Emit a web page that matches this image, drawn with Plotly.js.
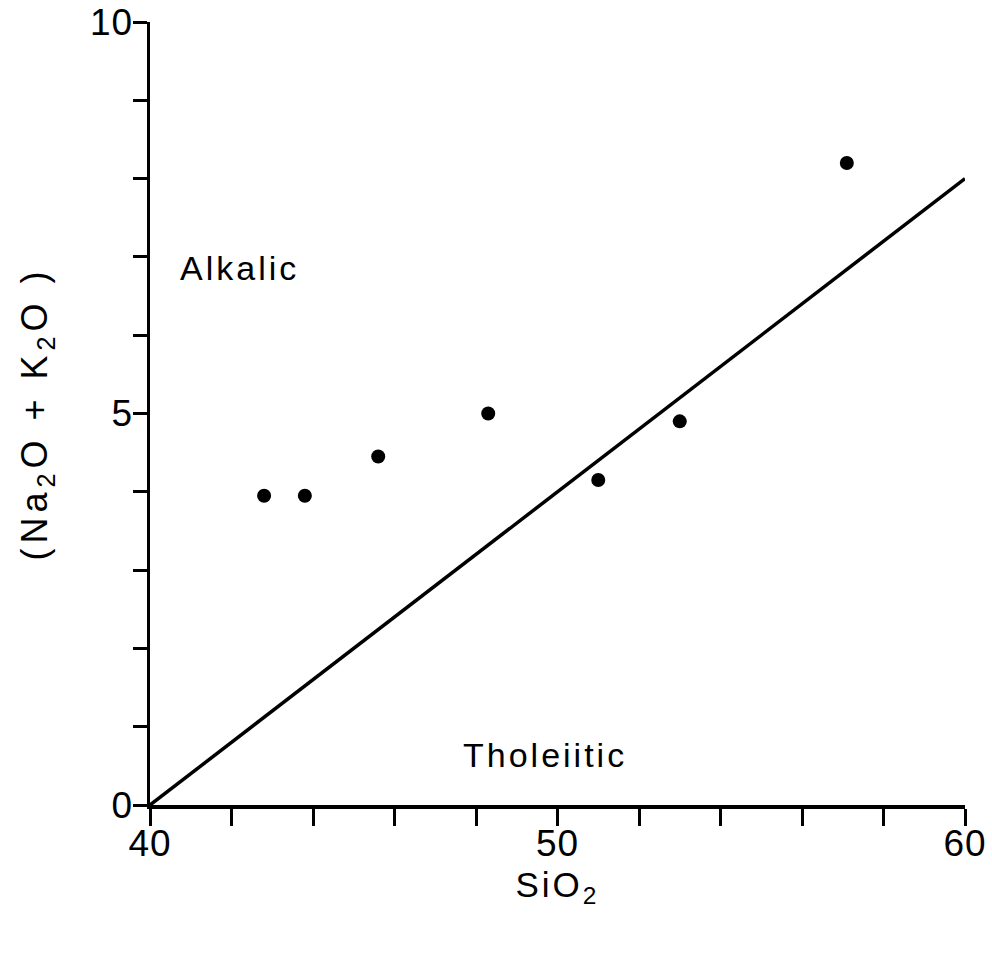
<!DOCTYPE html>
<html>
<head>
<meta charset="utf-8">
<script src="https://cdn.plot.ly/plotly-3.0.1.min.js"></script>
<style>
  html, body { margin: 0; padding: 0; background: #fff; }
  #chart { width: 992px; height: 953px; }
  .annotation-text, .xtitle { letter-spacing: 3px; }
  .ytitle { letter-spacing: 5px; }
  .xtick text, .ytick text { letter-spacing: 1px; }
</style>
</head>
<body>
<div id="chart"></div>
<script>
// Data
const sio2 = [42.8, 43.8, 45.6, 48.3, 51.0, 53.0, 57.1];
const alkalis = [3.95, 3.95, 4.45, 5.0, 4.15, 4.9, 8.2];

// Dividing line between alkalic and tholeiitic fields
const lineX = [40, 60];
const lineY = [0, 8];

const xTickVals = [40, 42, 44, 46, 48, 50, 52, 54, 56, 58, 60];
const xTickText = ["40", "", "", "", "", "50", "", "", "", "", "60"];
const yTickVals = [0, 1, 2, 3, 4, 5, 6, 7, 8, 9, 10];
const yTickText = ["0", "", "", "", "", "5", "", "", "", "", "10"];

const fieldLabels = ["Alkalic", "Tholeiitic"];
const fieldX = [42.2, 49.7];
const fieldY = [6.86, 0.64];

const FONT = "Liberation Sans, Arial, Helvetica, sans-serif";

const traces = [
  {
    x: lineX, y: lineY, mode: "lines", type: "scatter",
    line: { color: "#000", width: 3.5 }, hoverinfo: "skip", showlegend: false
  },
  {
    x: sio2, y: alkalis, mode: "markers", type: "scatter",
    marker: { color: "#000", size: 14 }, showlegend: false
  }
];

const layout = {
  width: 992, height: 953,
  margin: { l: 150, r: 27, t: 22, b: 148 },
  paper_bgcolor: "#fff", plot_bgcolor: "#fff",
  font: { family: FONT, color: "#000" },
  showlegend: false,
  xaxis: {
    range: [40, 60], showgrid: false, zeroline: false,
    showline: true, linecolor: "#000", linewidth: 3.5,
    ticks: "outside", ticklen: 17, tickwidth: 3, tickcolor: "#000",
    tickvals: xTickVals, ticktext: xTickText,
    tickfont: { family: FONT, size: 37, color: "#000" },
    ticklabelstandoff: -14,
    title: { text: "SiO<sub>2</sub>", font: { family: FONT, size: 35, color: "#000" }, standoff: 10 }
  },
  yaxis: {
    range: [0, 10], showgrid: false, zeroline: false,
    showline: true, linecolor: "#000", linewidth: 3.5,
    ticks: "outside", ticklen: 14, tickwidth: 3, tickcolor: "#000",
    tickvals: yTickVals, ticktext: yTickText,
    tickfont: { family: FONT, size: 37, color: "#000" },
    ticklabelstandoff: -8,
    title: { text: "(Na<sub>2</sub>O + K<sub>2</sub>O )", font: { family: FONT, size: 36, color: "#000" }, standoff: 32 }
  },
  annotations: fieldLabels.map((t, i) => ({
    x: fieldX[i], y: fieldY[i], xref: "x", yref: "y",
    text: t, showarrow: false,
    font: { family: FONT, size: 34, color: "#000" }
  }))
};

Plotly.newPlot("chart", traces, layout, { staticPlot: true, displayModeBar: false });
</script>
</body>
</html>
